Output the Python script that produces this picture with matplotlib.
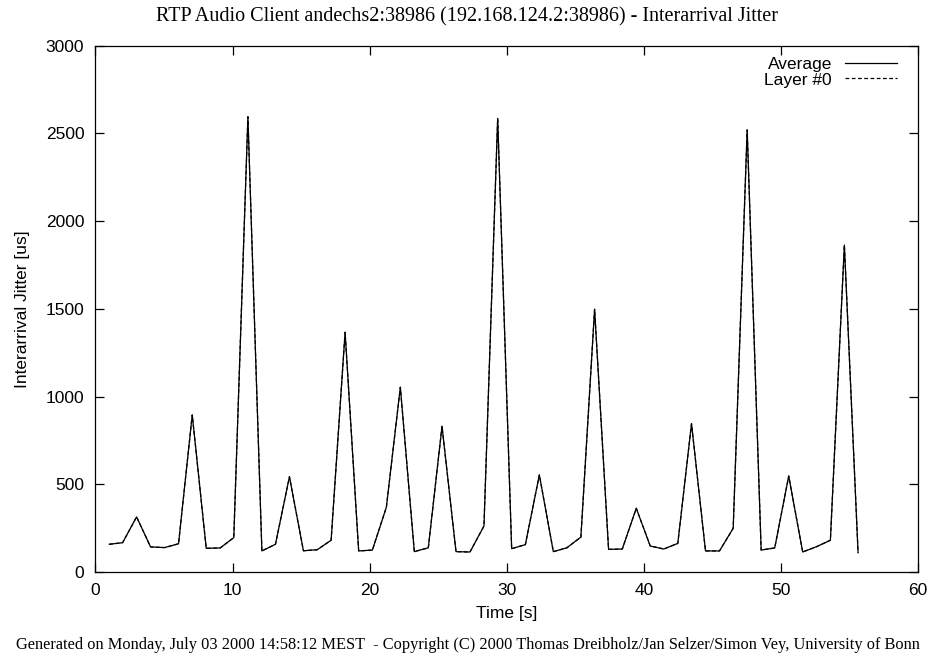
import matplotlib
matplotlib.use('Agg')
from matplotlib import pyplot as plt

# time [s] and interarrival jitter [us]
times = [1.01, 1.98, 3.00, 4.02, 5.04, 6.06, 7.06, 8.08, 9.10, 10.09,
         11.12, 12.14, 13.13, 14.15, 15.17, 16.18, 17.19, 18.21, 19.20, 20.20,
         21.22, 22.24, 23.26, 24.28, 25.28, 26.30, 27.32, 28.34, 29.34, 30.36,
         31.36, 32.38, 33.40, 34.39, 35.41, 36.41, 37.43, 38.43, 39.45, 40.47,
         41.46, 42.48, 43.48, 44.50, 45.52, 46.52, 47.54, 48.56, 49.55, 50.57,
         51.59, 52.59, 53.61, 54.63, 55.63]
jitter = [158, 167, 314, 143, 139, 161, 895, 135, 137, 196,
          2594, 120, 158, 543, 121, 127, 181, 1366, 120, 125,
          369, 1053, 116, 138, 830, 116, 114, 262, 2585, 133,
          156, 553, 116, 138, 199, 1497, 129, 131, 363, 148,
          131, 163, 845, 120, 120, 249, 2519, 125, 137, 547,
          114, 144, 181, 1863, 110]

plt.rcParams['font.family'] = 'Liberation Sans'

fig = plt.figure(figsize=(9.35, 6.58), dpi=100)
ax = fig.add_axes([0.1021, 0.1307, 0.8797, 0.8001])

ax.plot(times, jitter, color='black', lw=0.9, label='Average')
ax.plot(times, jitter, color='black', lw=0.9, ls=(0, (3, 2)), label='Layer #0')

ax.set_xlim(0, 60)
ax.set_ylim(0, 3000)
ax.set_xticks(range(0, 61, 10))
ax.set_yticks(range(0, 3001, 500))
ax.tick_params(direction='in', top=True, right=True, length=6.5, labelsize=12.5,
               width=0.9, pad=8)
for s in ax.spines.values():
    s.set_linewidth(0.9)

ax.set_xlabel('Time [s]', fontsize=12.5)
ax.set_ylabel('Interarrival Jitter [us]', fontsize=12.5)
ax.xaxis.set_label_coords(0.5, -0.064)
ax.yaxis.set_label_coords(-0.080, 0.5)

leg = ax.legend(loc='upper right', bbox_to_anchor=(0.983, 0.991), borderaxespad=0,
                frameon=False, markerfirst=False, fontsize=12.5,
                handlelength=3.0, labelspacing=0.0, handletextpad=0.75)
for t in leg.get_texts():
    t.set_ha('right')

fig.text(0.5, 0.974, 'RTP Audio Client andechs2:38986 (192.168.124.2:38986) - Interarrival Jitter',
         ha='center', va='center', fontsize=14.5, family='Liberation Serif')
fig.text(0.5, 0.0198, 'Generated on Monday, July 03 2000 14:58:12 MEST  - Copyright (C) 2000 Thomas Dreibholz/Jan Selzer/Simon Vey, University of Bonn',
         ha='center', va='center', fontsize=11.75, family='Liberation Serif')

fig.savefig('out.png', dpi=100)
